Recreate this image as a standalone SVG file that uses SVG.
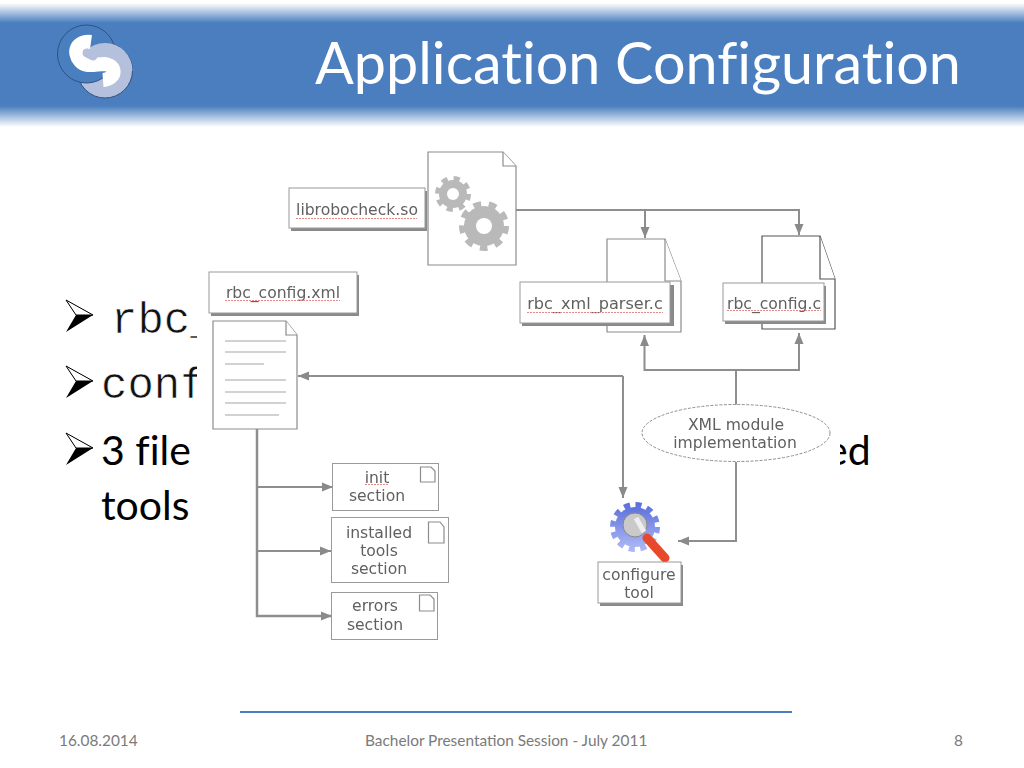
<svg xmlns="http://www.w3.org/2000/svg" width="1024" height="768" viewBox="0 0 1024 768">
<style>
.box{fill:#fff;stroke:#9a9a9a;stroke-width:1}
.sh{fill:#8a8a8a}
.doc{fill:#fff;stroke:#8c8c8c;stroke-width:1.2}
.fold{fill:#fff;stroke:#8c8c8c;stroke-width:1.2}
.t{font-family:"DejaVu Sans",sans-serif;font-size:15.600px;fill:#606060;text-anchor:middle}
.sq{fill:none;stroke:#e58a8a;stroke-width:1;stroke-dasharray:2 1}
.c{fill:none;stroke:#8e8e8e;stroke-width:2}
.ln{stroke:#a6a6a6;stroke-width:1.2}
.mono{font-family:"Liberation Mono",monospace;font-size:44px;fill:#111;stroke:#fff;stroke-width:0.6}
.body{font-family:"Lato",sans-serif;font-size:41px;fill:#000;font-variant-ligatures:none}
.foot{font-family:"Lato",sans-serif;font-size:15.400px;fill:#7a7a7a}
.gear{fill:none;stroke:#b9b9b9}
</style>
<defs>
<linearGradient id="hdr" x1="0" y1="0" x2="0" y2="1">
<stop offset="0" stop-color="#fff"/>
<stop offset="0.16" stop-color="#4a7ebf"/>
<stop offset="0.83" stop-color="#4a7ebf"/>
<stop offset="1" stop-color="#fff"/>
</linearGradient>
<linearGradient id="bg" x1="0" y1="0" x2="0" y2="1">
<stop offset="0" stop-color="#5f72dc"/>
<stop offset="1" stop-color="#aab6f5"/>
</linearGradient>
<filter id="soft" x="-5%" y="-5%" width="110%" height="110%"><feGaussianBlur stdDeviation="0.6"/></filter>
<filter id="soft2" x="-10%" y="-10%" width="120%" height="120%"><feGaussianBlur stdDeviation="0.7"/></filter>
<marker id="a" markerWidth="13" markerHeight="11" refX="11" refY="5" orient="auto" markerUnits="userSpaceOnUse"><path d="M0,0.500L11,5L0,9.500Z" fill="#8a8a8a"/></marker>
<clipPath id="lt"><path d="M72,30L140,30L140,72L106,66L88,62L80,54Z"/></clipPath>
<path id="bullet" d="M0,0L27,15L0,32L10,15Z"/>
</defs>

<rect x="0" y="3" width="1024" height="124" fill="url(#hdr)"/>
<g id="logo" filter="url(#soft2)">
<circle cx="105" cy="70.5" r="27.5" fill="#b4c0dc" stroke="#34507e" stroke-width="1"/>
<circle cx="86.5" cy="54" r="29" fill="#4a7ebf" stroke="#34507e" stroke-width="1"/>
<circle cx="105" cy="70.5" r="27.5" fill="#b4c0dc" clip-path="url(#lt)"/>
<path d="M91,42C77,40 72,52 80,61C86,68 96,64 104,64C117,65 117,79 103,80" fill="none" stroke="#fff" stroke-width="14"/>
<path d="M87,53L93,56" stroke="#b4c0dc" stroke-width="9" stroke-linecap="round"/>
</g>
<text x="315" y="84" font-family="Lato,sans-serif" font-size="57.500" fill="#fff" style="font-variant-ligatures:none">Application Configuration</text>

<g id="bullets">
<use href="#bullet" x="66" y="300" fill="#000"/>
<path d="M66,300L93,315L76,315Z" fill="#fff" stroke="#000"/>
<use href="#bullet" x="66" y="366" fill="#000"/>
<path d="M66,366L93,381L76,381Z" fill="#fff" stroke="#000"/>
<use href="#bullet" x="66" y="433" fill="#000"/>
<path d="M66,433L93,448L76,448Z" fill="#fff" stroke="#000"/>
<text x="111" y="333" class="mono">rbc_</text>
<text x="101" y="398" class="mono">conf</text>
<text x="101" y="465" class="body">3 file</text>
<text x="826" y="465" class="body">ed</text>
<text x="101" y="520" class="body">tools</text>
</g>
<rect x="197" y="146" width="643" height="505" fill="#fff"/>

<g filter="url(#soft)">
<g id="connectors">
<path class="c" d="M516,210H799V235" marker-end="url(#a)"/>
<path class="c" d="M645,210V238" marker-end="url(#a)"/>
<path class="c" d="M736,405V370H644.500V335" marker-end="url(#a)"/>
<path class="c" d="M736,370H799V333" marker-end="url(#a)"/>
<path class="c" d="M736,462V541H678" marker-end="url(#a)"/>
<path class="c" d="M623,376H298" marker-end="url(#a)"/>
<path class="c" d="M623,376V498" marker-end="url(#a)"/>
<path class="c" d="M257,429V616H332" marker-end="url(#a)" style="stroke-width:2.500"/>
<path class="c" d="M257,487H333" marker-end="url(#a)"/>
<path class="c" d="M257,551H331" marker-end="url(#a)"/>
</g>

<g id="libfile">
<path class="doc" d="M428,152H503L516,166V265H428Z"/>
<path class="fold" d="M503,152V166H516"/>
<circle cx="453" cy="194" r="14" fill="#b9b9b9"/>
<circle class="gear" cx="453" cy="194" r="15.500" stroke-width="5" stroke-dasharray="6.100 6.100"/>
<circle cx="453" cy="194" r="6" fill="#fff"/>
<circle cx="484" cy="226" r="20" fill="#b9b9b9"/>
<circle class="gear" cx="484" cy="226" r="22" stroke-width="6" stroke-dasharray="7.700 7.700"/>
<circle cx="484" cy="226" r="8" fill="#fff"/>
</g>
<g id="liblabel">
<rect class="sh" x="291" y="191" width="136" height="40"/>
<rect class="box" x="289" y="188" width="136" height="40"/>
<text class="t" x="357" y="215">librobocheck.so</text>
<path class="sq" d="M296,218.500H417"/>
</g>

<g id="parserfile">
<path class="doc" d="M607,239H665L681,281V332H607Z"/>
<path class="fold" d="M665,239V281H681"/>
</g>
<g id="parserlabel">
<rect class="sh" x="522" y="285" width="152" height="41"/>
<rect class="box" x="520" y="282" width="150" height="41"/>
<text class="t" x="595" y="309" style="font-size:16.100px">rbc_xml_parser.c</text>
<path class="sq" d="M527,312.500H663"/>
</g>

<g id="configfile">
<path class="doc" d="M762,236H820L835,279V329H762Z" style="stroke:#555"/>
<path class="fold" d="M820,236V279H835" style="stroke:#555"/>
</g>
<g id="configlabel">
<rect class="sh" x="725" y="286" width="101" height="38"/>
<rect class="box" x="723" y="283" width="101" height="38"/>
<text class="t" x="774" y="309">rbc_config.c</text>
<path class="sq" d="M727,310.500H821"/>
</g>

<g id="xmllabel">
<rect class="sh" x="211" y="275" width="148" height="41"/>
<rect class="box" x="209" y="272" width="148" height="41"/>
<text class="t" x="283" y="298">rbc_config.xml</text>
<path class="sq" d="M225,300.500H340"/>
</g>
<g id="xmlfile">
<path class="doc" d="M213,321H286L297,335V429H213Z"/>
<path class="fold" d="M286,321V335H297"/>
<path class="ln" d="M225,341H286M225,352H286M225,364H264M225,380H286M225,392H286M225,403H286M225,415H279"/>
</g>

<g id="module">
<ellipse cx="736" cy="433" rx="94" ry="28.500" fill="#fff" stroke="#8e8e8e" stroke-dasharray="3 1.500"/>
<text class="t" x="736" y="430">XML module</text>
<text class="t" x="735" y="448">implementation</text>
</g>

<g id="init">
<rect class="box" x="332.500" y="463.500" width="106" height="47"/>
<text class="t" x="377" y="483">init</text>
<text class="t" x="377" y="501">section</text>
<path class="sq" d="M365,484.500H389"/>
<path class="doc" d="M420.500,467H431L435,471V482H420.500Z"/>
</g>
<g id="installed">
<rect class="box" x="331.500" y="517.500" width="117" height="65"/>
<text class="t" x="379" y="538">installed</text>
<text class="t" x="379" y="556">tools</text>
<text class="t" x="379" y="574">section</text>
<path class="doc" d="M428.500,522H440L444,527V543H428.500Z"/>
</g>
<g id="errors">
<rect class="box" x="331.500" y="592.500" width="106" height="47"/>
<text class="t" x="375" y="611">errors</text>
<text class="t" x="375" y="630">section</text>
<path class="doc" d="M419.500,595H430L434,599V611H419.500Z"/>
</g>

<g id="configure">
<circle cx="635" cy="527" r="20" fill="url(#bg)"/>
<circle cx="635" cy="527" r="22" fill="none" stroke="url(#bg)" stroke-width="6" stroke-dasharray="6 5.500"/>
<path d="M647,538L665,558" stroke="#e8482c" stroke-width="9" stroke-linecap="round"/>
<circle cx="635" cy="525" r="12" fill="#c9c9c9" stroke="#888"/>
<path d="M636,518L644,532" stroke="#eee" stroke-width="5"/>
<rect class="sh" x="600" y="565" width="83" height="41"/>
<rect class="box" x="598" y="562" width="83" height="41"/>
<text class="t" x="639" y="580">configure</text>
<text class="t" x="639" y="598">tool</text>
</g>
</g>

<rect x="240" y="711" width="552" height="2" fill="#4a7ebf"/>
<text class="foot" x="59" y="746">16.08.2014</text>
<text class="foot" x="365" y="746">Bachelor Presentation Session - July 2011</text>
<text class="foot" x="954" y="746">8</text>
</svg>
